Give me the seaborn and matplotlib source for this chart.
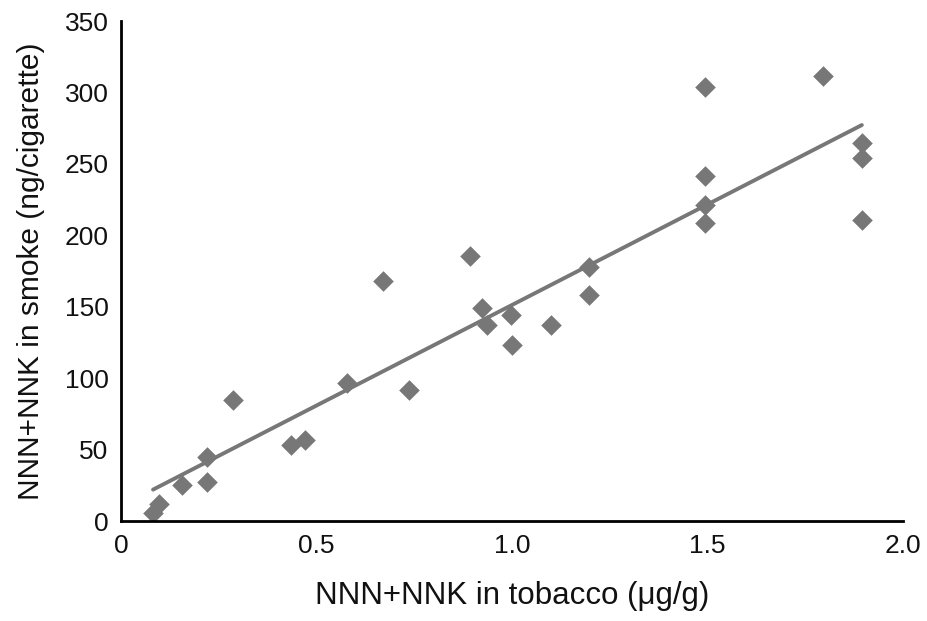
import matplotlib
matplotlib.use("Agg")
import matplotlib.pyplot as plt
import seaborn as sns
import pandas as pd

tobacco = [0.082, 0.097, 0.156, 0.22, 0.22, 0.287, 0.435, 0.47, 0.578, 0.67,
           0.737, 0.893, 0.923, 0.936, 0.997, 1.0, 1.1, 1.197, 1.197,
           1.494, 1.494, 1.494, 1.494, 1.795, 1.895, 1.895, 1.895]
smoke = [5.6, 11.9, 25, 45, 27, 85, 53, 57, 96.6, 168,
         91.7, 185.5, 149, 137, 144, 123, 137, 178, 158,
         303.8, 241.5, 221, 208.6, 311.5, 264.6, 254, 211]

xticks = [0, 0.5, 1.0, 1.5, 2.0]
xticklabels = ["0", "0.5", "1.0", "1.5", "2.0"]
yticks = [0, 50, 100, 150, 200, 250, 300, 350]

df = pd.DataFrame({"tobacco": tobacco, "smoke": smoke})

sns.set_style("white")
plt.rcParams["font.family"] = ["Liberation Sans", "DejaVu Sans"]
plt.rcParams["text.color"] = "#111111"
plt.rcParams["axes.labelcolor"] = "#111111"
plt.rcParams["xtick.labelcolor"] = "#111111"
plt.rcParams["ytick.labelcolor"] = "#111111"

fig = plt.figure(figsize=(9.27, 6.21), dpi=100)
ax = fig.add_axes([0.1305, 0.161, 0.8435, 0.805])

color = "#777777"
sns.regplot(data=df, x="tobacco", y="smoke", ax=ax, ci=None, marker="D",
            scatter_kws={"s": 110, "color": color, "linewidths": 0, "alpha": 1},
            line_kws={"color": color, "linewidth": 2.8})

ax.set_xlim(0, 2.0)
ax.set_ylim(0, 350)
ax.set_xticks(xticks)
ax.set_xticklabels(xticklabels)
ax.set_yticks(yticks)
ax.set_xlabel("NNN+NNK in tobacco (μg/g)", fontsize=22.5, labelpad=17)
ax.set_ylabel("NNN+NNK in smoke (ng/cigarette)", fontsize=21.5, labelpad=14)
ax.tick_params(axis="both", direction="in", length=7, width=2, labelsize=19,
               color="black", pad=9)
for side in ["top", "right"]:
    ax.spines[side].set_visible(False)
for side in ["left", "bottom"]:
    ax.spines[side].set_linewidth(2)
    ax.spines[side].set_color("black")

fig.savefig("out.png", dpi=100)
